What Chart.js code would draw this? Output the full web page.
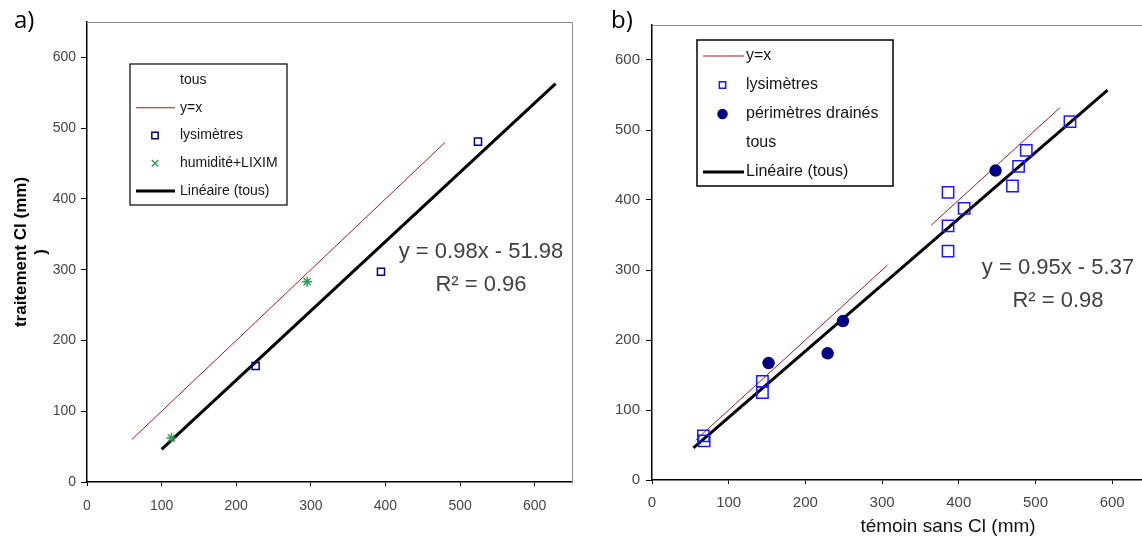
<!DOCTYPE html>
<html lang="fr">
<head>
  <meta charset="UTF-8">
  <title>Traitement Cl vs témoin</title>
  <script src="https://cdn.jsdelivr.net/npm/chart.js"></script>
  <style>
    body {
      margin: 0;
      width: 1142px;
      height: 537px;
      overflow: hidden;
      background: #fff;
      position: relative;
    }
    canvas { position: absolute; top: 0; }
    #chartA { left: 0; }
    #chartB { left: 580px; }
    .tag {
      position: absolute;
      top: 2px;
      font-family: 'Open Sans', sans-serif;
      font-size: 24px;
      color: #000;
    }
  </style>
</head>
<body>

  <canvas id="chartA" width="580" height="537"></canvas>
  <canvas id="chartB" width="580" height="537"></canvas>
  <div class="tag" style="left:14px">a)</div>
  <div class="tag" style="left:611px">b)</div>

  <script>
    const FONT = "'Liberation Sans', Arial, sans-serif";
    const tickVals = [0, 100, 200, 300, 400, 500, 600];

    // a) lysimètres + humidité/LIXIM
    const aLysX = [226, 394, 524];
    const aLysY = [164, 297, 481];
    const aHumX = [113, 295];
    const aHumY = [62, 283];
    const aIdX = [60, 480];
    const aIdY = [60, 480];
    const aFitX = [100, 628];
    const aFitY = [46, 563];
    const aEq = ['y = 0.98x - 51.98', 'R² = 0.96'];

    // b) lysimètres + périmètres drainés
    const bLysX = [67, 68, 144, 144, 386, 386, 386, 407, 470, 478, 488, 545];
    const bLysY = [63, 56, 141, 125, 411, 363, 327, 388, 420, 448, 471, 512];
    const bDrX = [152, 229, 249, 448];
    const bDrY = [167, 181, 227, 442];
    const bIdX = [57, 307, 335, 364, 532];
    const bIdY = [57, 307, null, 364, 532];
    const bFitX = [54, 594];
    const bFitY = [46, 557];
    const bEq = ['y = 0.95x - 5.37', 'R² = 0.98'];

    const pts = (xs, ys) => xs.map((x, i) => ({ x: x, y: ys[i] }));

    function marker(ctx, style, x, y, r, fill, stroke, lw) {
      ctx.save();
      ctx.lineWidth = lw;
      ctx.strokeStyle = stroke;
      ctx.fillStyle = fill;
      ctx.beginPath();
      if (style === 'rect') {
        const s = r * Math.SQRT1_2;
        ctx.rect(x - s, y - s, 2 * s, 2 * s);
        ctx.fill();
        ctx.stroke();
      } else if (style === 'circle') {
        ctx.arc(x, y, r, 0, Math.PI * 2);
        ctx.fill();
        ctx.stroke();
      } else {
        const d = r * Math.SQRT1_2;
        ctx.moveTo(x - d, y - d); ctx.lineTo(x + d, y + d);
        ctx.moveTo(x - d, y + d); ctx.lineTo(x + d, y - d);
        ctx.stroke();
      }
      ctx.restore();
    }

    // cadre gris haut / droite
    const frame = {
      id: 'frame',
      beforeDatasetsDraw(chart) {
        const { ctx, chartArea: a } = chart;
        ctx.save();
        ctx.strokeStyle = '#8c8c8c';
        ctx.lineWidth = 1;
        ctx.beginPath();
        ctx.moveTo(a.left, a.top + 0.5);
        ctx.lineTo(a.right + 0.5, a.top + 0.5);
        ctx.lineTo(a.right + 0.5, a.bottom);
        ctx.stroke();
        ctx.restore();
      }
    };

    // légende encadrée dans la zone du graphe
    const boxLegend = {
      id: 'boxLegend',
      afterDraw(chart, args, o) {
        const ctx = chart.ctx;
        ctx.save();
        ctx.fillStyle = '#fff';
        ctx.fillRect(o.x, o.y, o.w, o.h);
        ctx.strokeStyle = '#000';
        ctx.lineWidth = o.border;
        ctx.strokeRect(o.x, o.y, o.w, o.h);
        ctx.font = o.size + 'px ' + FONT;
        ctx.textBaseline = 'middle';
        chart.data.datasets.forEach((ds, i) => {
          const y = o.y + o.first + i * o.step;
          if (ds.showLine) {
            ctx.strokeStyle = ds.borderColor;
            ctx.lineWidth = ds.borderWidth;
            ctx.beginPath();
            ctx.moveTo(o.lineX0, y);
            ctx.lineTo(o.lineX1, y);
            ctx.stroke();
          } else if (ds.pointRadius > 0) {
            marker(ctx, ds.pointStyle, o.markX, y, o.markR,
              ds.pointBackgroundColor, ds.pointBorderColor, ds.pointBorderWidth);
          }
          ctx.fillStyle = '#151515';
          ctx.fillText(ds.label, o.textX, y);
        });
        ctx.restore();
      }
    };

    // textes libres (équations, titre d'axe)
    const notes = {
      id: 'notes',
      afterDraw(chart, args, o) {
        const ctx = chart.ctx;
        ctx.save();
        ctx.textAlign = 'center';
        ctx.textBaseline = 'middle';
        o.items.forEach(t => {
          ctx.font = (t.weight || 'normal') + ' ' + t.size + 'px ' + FONT;
          ctx.fillStyle = t.color;
          ctx.fillText(t.text, t.x, t.y);
        });
        ctx.restore();
      }
    };

    function axis(size, len, pad, extra) {
      return Object.assign({
        type: 'linear',
        min: 0,
        max: 650,
        afterBuildTicks: s => { s.ticks = tickVals.map(v => ({ value: v })); },
        ticks: { color: '#454545', font: { family: FONT, size: size }, padding: pad },
        grid: { drawOnChartArea: false, tickLength: len, color: '#000' },
        border: { color: '#000', width: 1.5 }
      }, extra);
    }

    const line = (label, data, color, width, order) => ({
      label: label, data: data, showLine: true, borderColor: color, borderWidth: width,
      pointRadius: 0, pointHoverRadius: 0, order: order
    });
    const dots = (label, data, style, r, fill, stroke) => ({
      label: label, data: data, pointStyle: style, pointRadius: r, pointHoverRadius: r,
      pointBackgroundColor: fill, pointBorderColor: stroke, pointBorderWidth: 1.5, order: 0
    });
    const hidden = (label, data) => ({
      label: label, data: data, pointRadius: 0, pointHoverRadius: 0, order: 5
    });

    new Chart(document.getElementById('chartA'), {
      type: 'scatter',
      data: {
        datasets: [
          hidden('tous', pts(aLysX.concat(aHumX), aLysY.concat(aHumY))),
          line('y=x', pts(aIdX, aIdY), '#a01c1c', 1, 3),
          dots('lysimètres', pts(aLysX, aLysY), 'rect', 5, 'rgba(0,0,0,0)', '#000080'),
          dots('humidité+LIXIM', pts(aHumX, aHumY), 'star', 5, '#2e9e5e', '#2e9e5e'),
          line('Linéaire (tous)', pts(aFitX, aFitY), '#000', 3, 2)
        ]
      },
      options: {
        responsive: false,
        animation: false,
        events: [],
        layout: { padding: { top: 22, right: 8, left: 0, bottom: 0 } },
        scales: {
          x: axis(14, 4, 12, { afterFit: s => { s.height = 55; } }),
          y: axis(14, 6, 5, {
            afterFit: s => { s.width = 87; },
            title: {
              display: true,
              text: ['traitement Cl (mm)', ')'],
              color: '#000',
              font: { family: FONT, size: 17, weight: 'bold', lineHeight: 1.2 },
              padding: { top: 11, bottom: 0 }
            }
          })
        },
        plugins: {
          legend: { display: false },
          tooltip: { enabled: false },
          boxLegend: {
            x: 130, y: 64, w: 157, h: 141, border: 1.2,
            first: 16, step: 27.75, size: 14,
            lineX0: 136, lineX1: 175, markX: 155, markR: 4.5, textX: 180
          },
          notes: {
            items: [
              { text: aEq[0], x: 481, y: 252, size: 22, color: '#404040' },
              { text: aEq[1], x: 481, y: 285, size: 22, color: '#404040' }
            ]
          }
        }
      },
      plugins: [frame, boxLegend, notes]
    });

    new Chart(document.getElementById('chartB'), {
      type: 'scatter',
      data: {
        datasets: [
          line('y=x', pts(bIdX, bIdY), '#a01c1c', 1, 3),
          dots('lysimètres', pts(bLysX, bLysY), 'rect', 8, 'rgba(0,0,0,0)', '#1a1aff'),
          dots('périmètres drainés', pts(bDrX, bDrY), 'circle', 5.5, '#000080', '#000080'),
          hidden('tous', pts(bLysX.concat(bDrX), bLysY.concat(bDrY))),
          line('Linéaire (tous)', pts(bFitX, bFitY), '#000', 3, 2)
        ]
      },
      options: {
        responsive: false,
        animation: false,
        events: [],
        spanGaps: false,
        layout: { padding: { top: 25, right: 8, left: 0, bottom: 0 } },
        scales: {
          x: axis(15, 4, 10, { afterFit: s => { s.height = 57; } }),
          y: axis(15, 6, 6, { afterFit: s => { s.width = 72; } })
        },
        plugins: {
          legend: { display: false },
          tooltip: { enabled: false },
          boxLegend: {
            x: 117, y: 40, w: 196, h: 146, border: 1.5,
            first: 16, step: 29, size: 16,
            lineX0: 123, lineX1: 164, markX: 142.5, markR: 4.5, textX: 166
          },
          notes: {
            items: [
              { text: bEq[0], x: 478, y: 268, size: 22, color: '#404040' },
              { text: bEq[1], x: 478, y: 301, size: 22, color: '#404040' },
              { text: 'témoin sans Cl (mm)', x: 368, y: 527, size: 19, color: '#111' }
            ]
          }
        }
      },
      plugins: [frame, boxLegend, notes]
    });
  </script>
</body>
</html>
